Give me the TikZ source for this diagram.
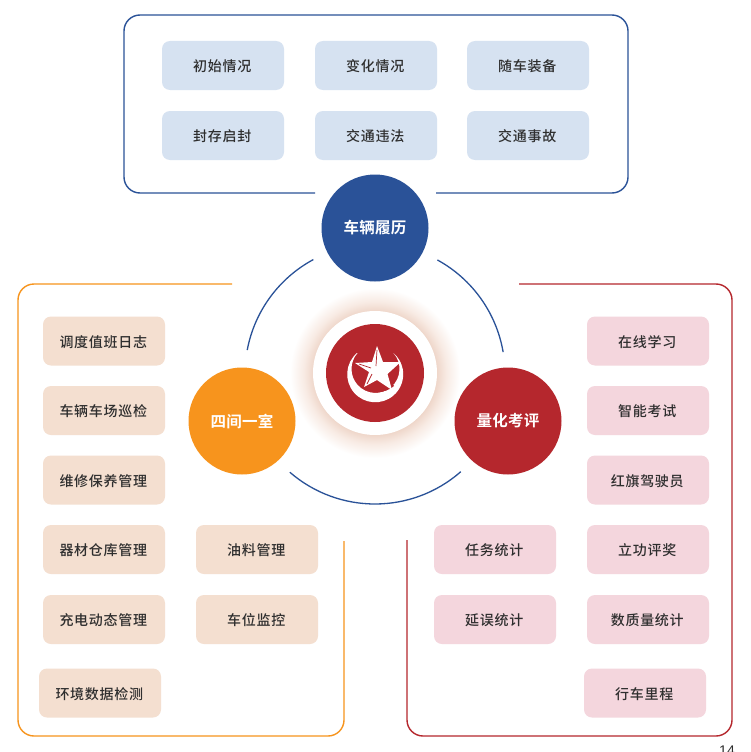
\documentclass[tikz,border=0pt]{standalone}
\usepackage{fontspec}
\setmainfont{Liberation Sans}
\newfontfamily\cjk[LetterSpace=5]{Noto Sans CJK SC Medium}
\newfontfamily\cjkb[LetterSpace=2]{Noto Sans CJK SC Bold}
\definecolor{bluemain}{HTML}{2A5298}
\definecolor{orangemain}{HTML}{F7941D}
\definecolor{redmain}{HTML}{B5272D}
\definecolor{boxblue}{HTML}{D6E2F1}
\definecolor{boxpeach}{HTML}{F4DFD0}
\definecolor{boxpink}{HTML}{F4D6DD}
\definecolor{txt}{HTML}{2E2E2E}
\definecolor{glowc}{HTML}{EED5C8}
\definecolor{glowm}{HTML}{F8EBE4}
\pgfdeclareradialshading{glowshade}{\pgfpoint{0bp}{0bp}}{color(0bp)=(glowc); color(18bp)=(glowc); color(21bp)=(glowm); color(25bp)=(white); color(50bp)=(white)}
\tikzset{
  x=1pt,y=-1pt,
  itembox/.style={rounded corners=8pt,minimum width=122pt,minimum height=49pt,inner sep=0pt,text=txt,text height=12.5pt,text depth=0.5pt,font=\fontsize{14pt}{16pt}\selectfont\cjk,execute at end node={\kern 1.5pt}},
  bluebox/.style={itembox,fill=boxblue},
  peachbox/.style={itembox,fill=boxpeach},
  pinkbox/.style={itembox,fill=boxpink},
  hub/.style={circle,minimum size=107pt,inner sep=0pt,text=white,font=\fontsize{15.5pt}{18pt}\selectfont\cjkb},
  frameline/.style={line width=1.4pt,rounded corners=16pt},
  ringarc/.style={draw=bluemain,line width=1.3pt},
}
\begin{document}
\begin{tikzpicture}
\clip (0,0) rectangle (750,752);
\fill[white] (0,0) rectangle (750,752);
% frames
\coordinate (bluestart) at (315,193);
\coordinate (blueend) at (436,193);
\draw[frameline,draw=bluemain] (bluestart) -- (124,193) -- (124,15) -- (628,15) -- (628,193) -- (blueend);
\coordinate (orangestart) at (232,284);
\coordinate (orangeend) at (344,541);
\draw[frameline,draw=orangemain] (orangestart) -- (18,284) -- (18,736) -- (344,736) -- (orangeend);
\coordinate (redstart) at (519,284);
\coordinate (redend) at (407,540);
\draw[frameline,draw=redmain] (redstart) -- (732,284) -- (732,736) -- (407,736) -- (redend);
% ring arcs
\coordinate (ringc) at (375,374);
\draw[ringarc] (ringc) ++(-118.3:130) arc[start angle=-118.3,end angle=-169.4,radius=130];
\draw[ringarc] (ringc) ++(-61.3:130) arc[start angle=-61.3,end angle=-9.7,radius=130];
\draw[ringarc] (ringc) ++(130.9:130) arc[start angle=130.9,end angle=48.7,radius=130];
% centre emblem
\shade[shading=glowshade] (375,373) circle[radius=85];
\fill[white] (375,373) circle[radius=62];
\fill[redmain] (375,373) circle[radius=49];
\fill[white] (357,353) arc[start angle=229.4,end angle=-49.4,radius=28]
  arc[start angle=-41.6,end angle=221.6,radius=24] -- cycle;
\fill[redmain] (361,385) .. controls (370,394) and (385,394) .. (394,386) -- (392,383) .. controls (383,390) and (371,390) .. (361,385) -- cycle;
\fill[white] (377,346) -- (383,362) -- (400.7,362) -- (387.5,374) -- (392,390) -- (377,380) -- (364,387) -- (369,372) -- (355,363) -- (372,362) -- cycle;
\draw[redmain,line width=.7pt] (377,350) -- (376,366) (359,364) -- (371,368) (367,384) -- (372,374);
% hubs
\node[hub,fill=bluemain] (lvli) at (375,228) {车辆履历};
\node[hub,fill=orangemain] (sijian) at (242,421) {四间一室};
\node[hub,fill=redmain] (lianghua) at (508,421) {量化考评};
% top
\node[bluebox] (a1) at (223,65.5) {初始情况};
\node[bluebox] (a2) at (376,65.5) {变化情况};
\node[bluebox] (a3) at (528,65.5) {随车装备};
\node[bluebox] (a4) at (223,135.5) {封存启封};
\node[bluebox] (a5) at (376,135.5) {交通违法};
\node[bluebox] (a6) at (528,135.5) {交通事故};
% left
\node[peachbox] (b1) at (104,341) {调度值班日志};
\node[peachbox] (b2) at (104,410.5) {车辆车场巡检};
\node[peachbox] (b3) at (104,480) {维修保养管理};
\node[peachbox] (b4) at (104,549.5) {器材仓库管理};
\node[peachbox] (b5) at (104,619.5) {充电动态管理};
\node[peachbox] (b6) at (257,549.5) {油料管理};
\node[peachbox] (b7) at (257,619.5) {车位监控};
\node[peachbox] (b8) at (100,693) {环境数据检测};
% right
\node[pinkbox] (c1) at (648,341) {在线学习};
\node[pinkbox] (c2) at (648,410.5) {智能考试};
\node[pinkbox] (c3) at (648,480) {红旗驾驶员};
\node[pinkbox] (c4) at (648,549.5) {立功评奖};
\node[pinkbox] (c5) at (648,619.5) {数质量统计};
\node[pinkbox] (c6) at (495,549.5) {任务统计};
\node[pinkbox] (c7) at (495,619.5) {延误统计};
\node[pinkbox] (c8) at (645,693) {行车里程};
\node[text=txt,font=\fontsize{14pt}{16pt}\selectfont,inner sep=0pt] (page) at (727,751) {14};
\end{tikzpicture}
\end{document}
